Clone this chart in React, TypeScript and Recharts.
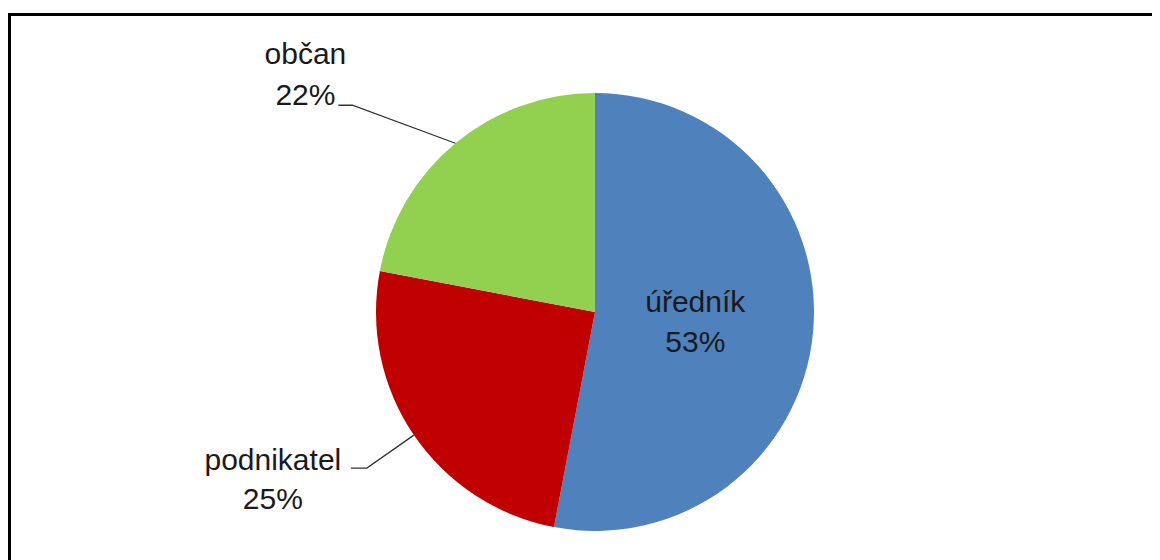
import React from 'react';
import { PieChart, Pie, Cell } from 'recharts';

const categories = ['úředník', 'podnikatel', 'občan'];
const shares = [53, 25, 22];
const colors = ['#4F81BD', '#C00000', '#92D050'];

const data = categories.map((name, i) => ({ name, value: shares[i] }));

const RADIAN = Math.PI / 180;
const FONT = '"Liberation Sans", Arial, sans-serif';

// label placement per slice: inside label radius, or elbow offset + text offset for outside ones
const labelLayout = [
  { inside: true, r: 0.46 },
  { inside: false, elbow: [-47, 33], tail: -16, text: [-94, -9, 30] },
  { inside: false, elbow: [-103, -38], tail: -14, text: [-47, -52, -11] },
];

const renderLabel = (props: any) => {
  const { cx, cy, midAngle, outerRadius, index, name, percent } = props;
  const lay: any = labelLayout[index];
  const pct = Math.round(percent * 100) + '%';
  const cos = Math.cos(-midAngle * RADIAN);
  const sin = Math.sin(-midAngle * RADIAN);
  if (lay.inside) {
    const x = cx + outerRadius * lay.r * cos;
    const y = cy + outerRadius * lay.r * sin;
    return (
      <g>
        <text x={x} y={y - 20} textAnchor="middle" dominantBaseline="central" fontFamily={FONT} fontSize={30} fill="#1a1a1a">
          {name}
        </text>
        <text x={x} y={y + 20} textAnchor="middle" dominantBaseline="central" fontFamily={FONT} fontSize={30} fill="#1a1a1a">
          {pct}
        </text>
      </g>
    );
  }
  const ex = cx + outerRadius * cos;
  const ey = cy + outerRadius * sin;
  const bx = ex + lay.elbow[0];
  const by = ey + lay.elbow[1];
  const tx = bx + lay.tail;
  return (
    <g>
      <polyline points={`${ex},${ey} ${bx},${by} ${tx},${by}`} fill="none" stroke="#333" strokeWidth={1.3} />
      <text x={bx + lay.text[0]} y={by + lay.text[1]} textAnchor="middle" dominantBaseline="central" fontFamily={FONT} fontSize={30} fill="#1a1a1a">
        {name}
      </text>
      <text x={bx + lay.text[0]} y={by + lay.text[2]} textAnchor="middle" dominantBaseline="central" fontFamily={FONT} fontSize={30} fill="#1a1a1a">
        {pct}
      </text>
    </g>
  );
};

export default function App() {
  return (
    <div style={{ paddingTop: 5, width: 1152, height: 547, overflow: 'hidden' }}>
      <style>{'html, body { overflow: hidden; }'}</style>
      <div
        style={{
          width: 1200,
          height: 600,
          borderTop: '3px solid #000',
          borderLeft: '3px solid #000',
          background: '#fff',
        }}
      >
        <PieChart width={1149} height={540}>
          <Pie
            data={data}
            dataKey="value"
            nameKey="name"
            cx={579}
            cy={291}
            outerRadius={219}
            startAngle={90}
            endAngle={-270}
            stroke="none"
            label={renderLabel}
            labelLine={false}
            isAnimationActive={false}
          >
            {data.map((d, i) => (
              <Cell key={d.name} fill={colors[i]} />
            ))}
          </Pie>
        </PieChart>
      </div>
    </div>
  );
}
